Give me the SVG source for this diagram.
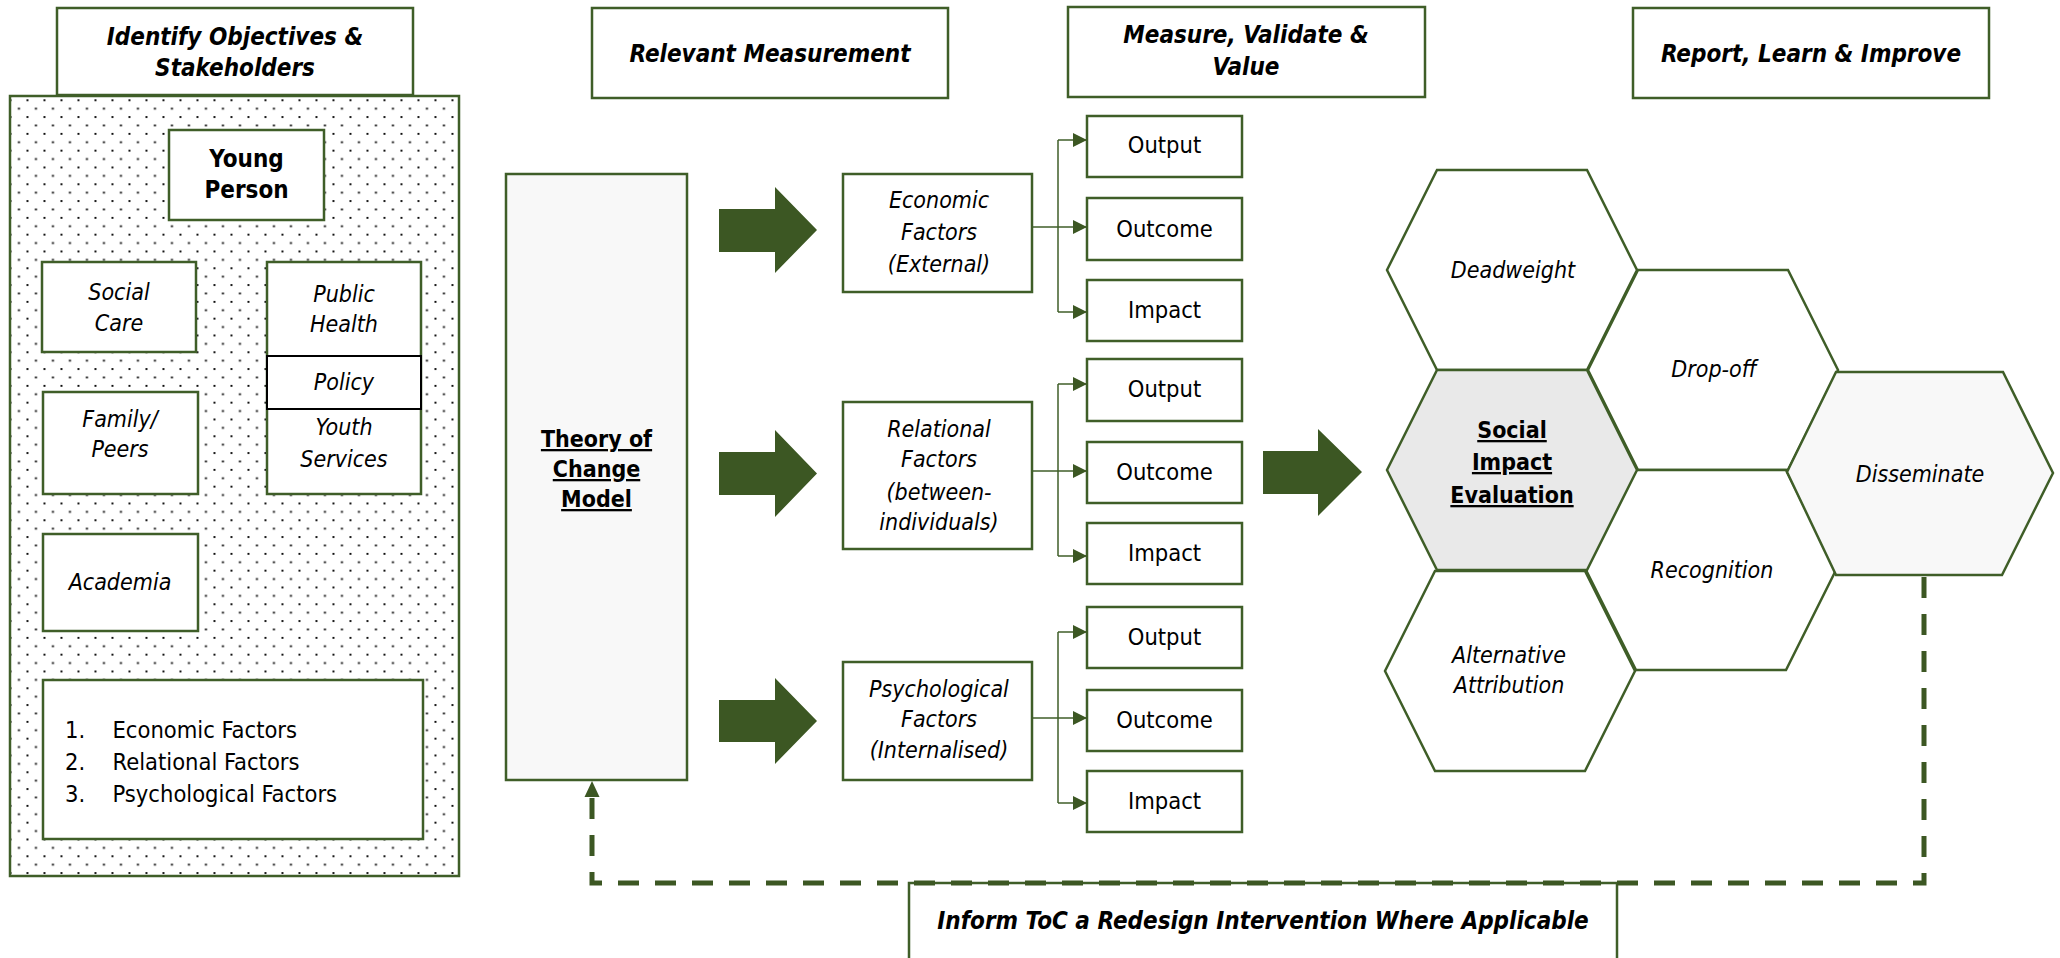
<svg xmlns="http://www.w3.org/2000/svg" width="2060" height="958" viewBox="0 0 2060 958">
<style>
.box{fill:#fff;stroke:#3f5e28;stroke-width:2.5}
.t{font-family:"DejaVu Sans Condensed","DejaVu Sans",sans-serif;fill:#000;text-anchor:middle}
.hdr{font-weight:bold;font-style:italic;font-size:24px}
.it{font-style:italic;font-size:23px}
.reg{font-size:23.5px}
.bu{font-weight:bold;font-size:23px;text-decoration:underline}
.big{fill:#3c5723}
.conn{fill:none;stroke:#3f5e28;stroke-width:1.5}
.dash{fill:none;stroke:#3c5723;stroke-width:5;stroke-dasharray:21 16}
.hex{stroke:#3f5e28;stroke-width:2.5;fill:#fff}
.lst{text-anchor:start}
</style>
<defs>
<pattern id="dots" patternUnits="userSpaceOnUse" x="26.5" y="99.3" width="17" height="16.8">
<rect x="0" y="0" width="1.9" height="1.9" fill="#000"/>
<rect x="8.5" y="8.4" width="1.9" height="1.9" fill="#000"/>
</pattern>
<marker id="ah" markerUnits="userSpaceOnUse" markerWidth="14" markerHeight="14" refX="14" refY="7" orient="auto">
<path d="M0,0 L14,7 L0,14 Z" fill="#3c5723"/>
</marker>
</defs>

<g id="hdr-identify">
<rect class="box" x="57" y="8" width="356" height="87"/>
<text class="t hdr" x="235" y="45">Identify Objectives &amp;</text>
<text class="t hdr" x="235" y="76">Stakeholders</text>
</g>
<g id="hdr-relevant">
<rect class="box" x="592" y="8" width="356" height="90"/>
<text class="t hdr" x="770" y="62">Relevant Measurement</text>
</g>
<g id="hdr-measure">
<rect class="box" x="1068" y="7" width="357" height="90"/>
<text class="t hdr" x="1246" y="43">Measure, Validate &amp;</text>
<text class="t hdr" x="1246" y="75">Value</text>
</g>
<g id="hdr-report">
<rect class="box" x="1633" y="8" width="356" height="90"/>
<text class="t hdr" x="1811" y="62">Report, Learn &amp; Improve</text>
</g>

<g id="stakeholders">
<rect x="10" y="96" width="449" height="780" fill="url(#dots)" stroke="#3f5e28" stroke-width="2.5"/>
</g>
<g id="young-person">
<rect class="box" x="169" y="130" width="155" height="90" stroke-width="4.5"/>
<text class="t" font-weight="bold" font-size="24" x="246.5" y="167">Young</text>
<text class="t" font-weight="bold" font-size="24" x="246.5" y="198">Person</text>
</g>
<g id="social-care">
<rect class="box" x="42" y="262" width="154" height="90"/>
<text class="t it" x="119" y="300">Social</text>
<text class="t it" x="119" y="331">Care</text>
</g>
<g id="public-health">
<rect class="box" x="267" y="262" width="154" height="232"/>
<text class="t it" x="344" y="302">Public</text>
<text class="t it" x="344" y="332">Health</text>
<text class="t it" x="344" y="435">Youth</text>
<text class="t it" x="344" y="467">Services</text>
</g>
<g id="policy">
<rect x="267" y="356" width="154" height="53" fill="#fff" stroke="#000" stroke-width="2"/>
<text class="t it" x="344" y="390">Policy</text>
</g>
<g id="family-peers">
<rect class="box" x="43" y="392" width="155" height="102"/>
<text class="t it" x="120" y="427">Family/</text>
<text class="t it" x="120" y="457">Peers</text>
</g>
<g id="academia">
<rect class="box" x="43" y="534" width="155" height="97"/>
<text class="t it" x="120" y="590">Academia</text>
</g>
<g id="factor-list">
<rect class="box" x="43" y="680" width="380" height="159"/>
<text class="t reg lst" x="65" y="738">1.</text>
<text class="t reg lst" x="112.5" y="738">Economic Factors</text>
<text class="t reg lst" x="65" y="770">2.</text>
<text class="t reg lst" x="112.5" y="770">Relational Factors</text>
<text class="t reg lst" x="65" y="802">3.</text>
<text class="t reg lst" x="112.5" y="802">Psychological Factors</text>
</g>

<g id="toc">
<rect x="506" y="174" width="181" height="606" fill="#f8f8f8" stroke="#3f5e28" stroke-width="2.5"/>
<text class="t bu" x="596.5" y="447">Theory of</text>
<text class="t bu" x="596.5" y="477">Change</text>
<text class="t bu" x="596.5" y="507">Model</text>
</g>

<g id="economic">
<rect class="box" x="843" y="174" width="189" height="118"/>
<text class="t it" x="939" y="208">Economic</text>
<text class="t it" x="939" y="240">Factors</text>
<text class="t it" x="939" y="272">(External)</text>
</g>
<g id="relational">
<rect class="box" x="843" y="402" width="189" height="147"/>
<text class="t it" x="939" y="437">Relational</text>
<text class="t it" x="939" y="467">Factors</text>
<text class="t it" x="939" y="500">(between-</text>
<text class="t it" x="939" y="530">individuals)</text>
</g>
<g id="psychological">
<rect class="box" x="843" y="662" width="189" height="118"/>
<text class="t it" x="939" y="697">Psychological</text>
<text class="t it" x="939" y="727">Factors</text>
<text class="t it" x="939" y="758">(Internalised)</text>
</g>

<g id="output-1"><rect class="box" x="1087" y="116" width="155" height="61"/><text class="t reg" x="1164.5" y="153">Output</text></g>
<g id="outcome-1"><rect class="box" x="1087" y="198" width="155" height="62"/><text class="t reg" x="1164.5" y="237">Outcome</text></g>
<g id="impact-1"><rect class="box" x="1087" y="280" width="155" height="61"/><text class="t reg" x="1164.5" y="318">Impact</text></g>
<g id="output-2"><rect class="box" x="1087" y="359" width="155" height="62"/><text class="t reg" x="1164.5" y="397">Output</text></g>
<g id="outcome-2"><rect class="box" x="1087" y="442" width="155" height="61"/><text class="t reg" x="1164.5" y="480">Outcome</text></g>
<g id="impact-2"><rect class="box" x="1087" y="523" width="155" height="61"/><text class="t reg" x="1164.5" y="561">Impact</text></g>
<g id="output-3"><rect class="box" x="1087" y="607" width="155" height="61"/><text class="t reg" x="1164.5" y="645">Output</text></g>
<g id="outcome-3"><rect class="box" x="1087" y="690" width="155" height="61"/><text class="t reg" x="1164.5" y="728">Outcome</text></g>
<g id="impact-3"><rect class="box" x="1087" y="771" width="155" height="61"/><text class="t reg" x="1164.5" y="809">Impact</text></g>

<g id="deadweight">
<path class="hex" d="M1387,270 L1437,170 L1587,170 L1637,270 L1587,370 L1437,370 Z"/>
<text class="t it" x="1513" y="278">Deadweight</text>
</g>
<g id="alternative-attribution">
<path class="hex" d="M1385,671 L1435,571 L1585,571 L1635,671 L1585,771 L1435,771 Z"/>
<text class="t it" x="1509" y="663">Alternative</text>
<text class="t it" x="1509" y="693">Attribution</text>
</g>
<g id="drop-off">
<path class="hex" d="M1588,370 L1638,270 L1788,270 L1838,370 L1788,470 L1638,470 Z"/>
<text class="t it" x="1714" y="377">Drop-off</text>
</g>
<g id="recognition">
<path class="hex" d="M1586,570 L1636,470 L1786,470 L1836,570 L1786,670 L1636,670 Z"/>
<text class="t it" x="1712" y="578">Recognition</text>
</g>
<g id="social-impact">
<path class="hex" style="fill:#e9e9e9" d="M1387,470 L1437,370 L1587,370 L1637,470 L1587,570 L1437,570 Z"/>
<text class="t bu" x="1512" y="438">Social</text>
<text class="t bu" x="1512" y="470">Impact</text>
<text class="t bu" x="1512" y="503">Evaluation</text>
</g>
<g id="disseminate">
<path class="hex" style="fill:#f8f8f8" d="M1787,472 L1836,372 L2003,372 L2053,473 L2002,575 L1836,575 Z"/>
<text class="t it" x="1920" y="482">Disseminate</text>
</g>

<g id="inform">
<rect class="box" x="909" y="883" width="708" height="78"/>
<text class="t hdr" x="1263" y="929">Inform ToC a Redesign Intervention Where Applicable</text>
</g>

<g id="connectors">
<polygon class="big" points="719,209 775,209 775,187 817,230 775,273 775,252 719,252"/>
<polygon class="big" points="719,452 775,452 775,430 817,473.5 775,517 775,495 719,495"/>
<polygon class="big" points="719,700 775,700 775,678 817,721 775,764 775,742 719,742"/>
<polygon class="big" points="1263,451 1318,451 1318,429 1362,472 1318,516 1318,494 1263,494"/>

<path class="conn" d="M1058,140 V312"/>
<path class="conn" d="M1058,140 H1087" marker-end="url(#ah)"/>
<path class="conn" d="M1032,227 H1087" marker-end="url(#ah)"/>
<path class="conn" d="M1058,312 H1087" marker-end="url(#ah)"/>

<path class="conn" d="M1058,384 V556"/>
<path class="conn" d="M1058,384 H1087" marker-end="url(#ah)"/>
<path class="conn" d="M1032,471 H1087" marker-end="url(#ah)"/>
<path class="conn" d="M1058,556 H1087" marker-end="url(#ah)"/>

<path class="conn" d="M1058,632 V803"/>
<path class="conn" d="M1058,632 H1087" marker-end="url(#ah)"/>
<path class="conn" d="M1032,718 H1087" marker-end="url(#ah)"/>
<path class="conn" d="M1058,803 H1087" marker-end="url(#ah)"/>

<path class="dash" d="M1924,577 V883 H592 V795"/>
<polygon class="big" points="592,781 584.5,797 599.5,797"/>
</g>
</svg>
